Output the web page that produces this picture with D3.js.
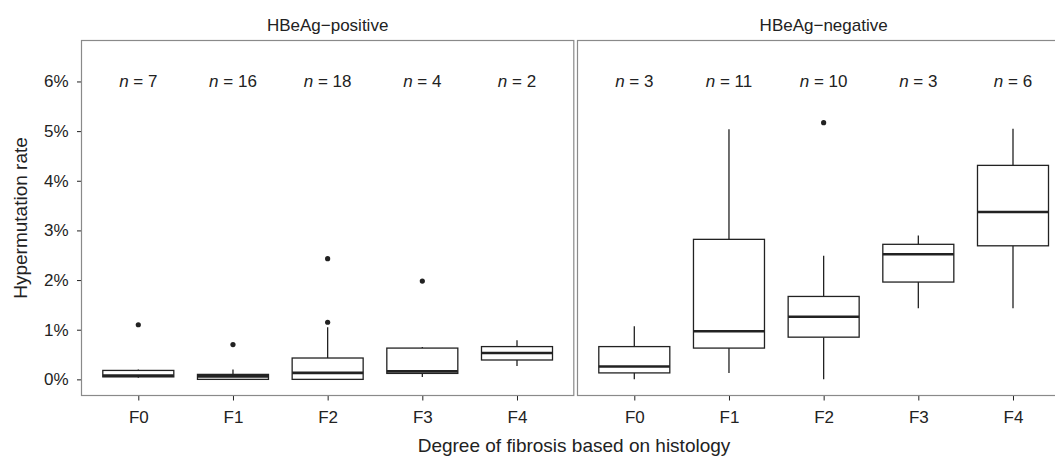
<!DOCTYPE html>
<html lang="en">
<head>
  <meta charset="UTF-8">
  <title>Hypermutation rate by fibrosis</title>
  <script src="https://d3js.org/d3.v7.min.js"></script>
  <style>
    body {
      margin: 0;
      background: #fff;
      font-family: "Liberation Sans", Arial, sans-serif;
    }
  </style>
</head>
<body>
  <div id="chart"></div>

  <script>
    // stages of fibrosis (x categories)
    const stages = ["F0", "F1", "F2", "F3", "F4"];
    const panels = ["HBeAg\u2212positive", "HBeAg\u2212negative"];

    // box stats in %: [lower whisker, q1, median, q3, upper whisker]
    const posStats = [
      [0.03, 0.05, 0.075, 0.18, 0.20],
      [0.00, 0.00, 0.06, 0.10, 0.20],
      [0.00, 0.00, 0.13, 0.43, 1.05],
      [0.05, 0.12, 0.16, 0.63, 0.65],
      [0.27, 0.39, 0.53, 0.66, 0.79]
    ];
    const negStats = [
      [0.00, 0.13, 0.26, 0.66, 1.07],
      [0.13, 0.63, 0.97, 2.82, 5.04],
      [0.00, 0.85, 1.26, 1.67, 2.49],
      [1.43, 1.96, 2.52, 2.72, 2.90],
      [1.43, 2.69, 3.37, 4.31, 5.05]
    ];
    const posOutliers = [[1.10], [0.70], [2.43, 1.15], [1.98], []];
    const negOutliers = [[], [], [5.17], [], []];
    const posN = [7, 16, 18, 4, 2];
    const negN = [3, 11, 10, 3, 6];
    const yTicks = [0, 1, 2, 3, 4, 5, 6];

    const width = 1055, height = 456;
    const panelTop = 40.5, panelBottom = 395.5;
    const panelW = 492.3;
    const panelX = [81.5, 577.5];
    const ink = "#222";
    const frame = "#8a8a8a";
    const font = "'Liberation Sans', Arial, sans-serif";

    const svg = d3.select("#chart").append("svg")
        .attr("width", width)
        .attr("height", height)
        .style("font-family", font);

    const y = d3.scaleLinear()
        .domain([-0.325, 6.825])
        .range([panelBottom, panelTop]);

    const panelData = [
      {stats: posStats, outliers: posOutliers, n: posN},
      {stats: negStats, outliers: negOutliers, n: negN}
    ];

    panelData.forEach((pd, i) => {
      const x = d3.scalePoint()
          .domain(stages)
          .range([panelX[i], panelX[i] + panelW])
          .padding(0.6);
      const boxW = x.step() * 0.75;

      const g = svg.append("g");

      // strip title
      g.append("text")
        .attr("x", panelX[i] + panelW / 2)
        .attr("y", 31)
        .attr("text-anchor", "middle")
        .attr("font-size", "17px")
        .attr("fill", ink)
        .text(panels[i]);

      // x axis
      const xAxis = g.append("g")
        .attr("transform", `translate(0,${panelBottom})`)
        .call(d3.axisBottom(x).tickSize(5).tickPadding(10));
      xAxis.select(".domain").remove();
      xAxis.selectAll("line").attr("stroke", ink);
      xAxis.selectAll("text")
        .attr("font-size", "17px")
        .attr("font-family", font)
        .attr("fill", ink);

      // y axis only on the first panel
      if (i === 0) {
        const yAxis = g.append("g")
          .attr("transform", `translate(${panelX[i]},0)`)
          .call(d3.axisLeft(y).tickValues(yTicks).tickFormat(d => d + "%")
                  .tickSize(4.5).tickPadding(8.5));
        yAxis.select(".domain").remove();
        yAxis.selectAll("line").attr("stroke", ink);
        yAxis.selectAll("text")
          .attr("font-size", "17px")
          .attr("font-family", font)
          .attr("fill", ink);
      }

      const boxes = g.selectAll("g.box")
        .data(stages.map((s, k) => ({stage: s, st: pd.stats[k], out: pd.outliers[k], n: pd.n[k]})))
        .join("g")
        .attr("class", "box");

      // whiskers
      boxes.append("line")
        .attr("x1", d => x(d.stage)).attr("x2", d => x(d.stage))
        .attr("y1", d => y(d.st[4])).attr("y2", d => y(d.st[3]))
        .attr("stroke", ink).attr("stroke-width", 1.3);
      boxes.append("line")
        .attr("x1", d => x(d.stage)).attr("x2", d => x(d.stage))
        .attr("y1", d => y(d.st[1])).attr("y2", d => y(d.st[0]))
        .attr("stroke", ink).attr("stroke-width", 1.3);

      // boxes
      boxes.append("rect")
        .attr("x", d => x(d.stage) - boxW / 2)
        .attr("width", boxW)
        .attr("y", d => y(d.st[3]))
        .attr("height", d => y(d.st[1]) - y(d.st[3]))
        .attr("fill", "#fff")
        .attr("stroke", ink)
        .attr("stroke-width", 1.3);

      // medians
      boxes.append("line")
        .attr("x1", d => x(d.stage) - boxW / 2)
        .attr("x2", d => x(d.stage) + boxW / 2)
        .attr("y1", d => y(d.st[2])).attr("y2", d => y(d.st[2]))
        .attr("stroke", ink).attr("stroke-width", 2.6);

      // outliers
      boxes.selectAll("circle")
        .data(d => d.out.map(v => ({stage: d.stage, v})))
        .join("circle")
        .attr("cx", d => x(d.stage))
        .attr("cy", d => y(d.v))
        .attr("r", 2.6)
        .attr("fill", ink);

      // n labels
      const nt = boxes.append("text")
        .attr("x", d => x(d.stage))
        .attr("y", y(6))
        .attr("dy", "0.35em")
        .attr("text-anchor", "middle")
        .attr("font-size", "17px")
        .attr("fill", ink);
      nt.append("tspan").attr("font-style", "italic").text("n");
      nt.append("tspan").text(d => " = " + d.n);

      // panel frame
      g.append("rect")
        .attr("x", panelX[i])
        .attr("y", panelTop)
        .attr("width", panelW)
        .attr("height", panelBottom - panelTop)
        .attr("fill", "none")
        .attr("stroke", frame)
        .attr("stroke-width", 1.2);
    });

    // axis titles
    svg.append("text")
      .attr("x", 574)
      .attr("y", 452)
      .attr("text-anchor", "middle")
      .attr("font-size", "19px")
      .attr("fill", ink)
      .text("Degree of fibrosis based on histology");

    svg.append("text")
      .attr("transform", `translate(27,${(panelTop + panelBottom) / 2}) rotate(-90)`)
      .attr("text-anchor", "middle")
      .attr("font-size", "19px")
      .attr("fill", ink)
      .text("Hypermutation rate");
  </script>
</body>
</html>
